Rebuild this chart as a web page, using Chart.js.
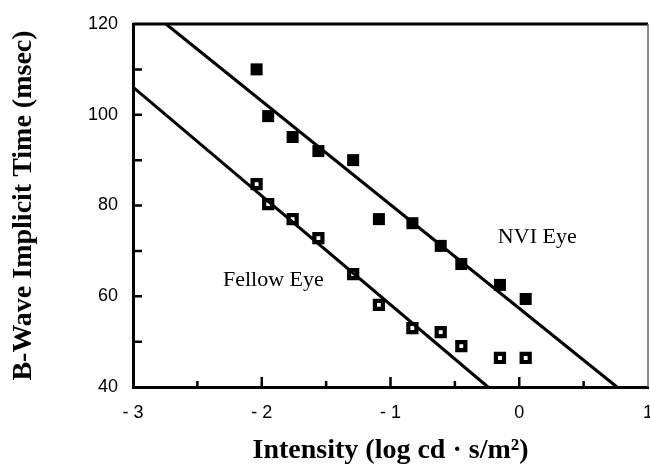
<!DOCTYPE html>
<html>
<head>
<meta charset="utf-8">
<script src="https://cdn.jsdelivr.net/npm/chart.js@4"></script>
<style>
  body { margin: 0; background: #fff; }
</style>
</head>
<body>
<canvas id="implicitChart" width="650" height="465"></canvas>
<script>
// intensity (log cd·s/m2), shared by both eyes
const intensity = [-2.04, -1.95, -1.76, -1.56, -1.29, -1.09, -0.83, -0.61, -0.45, -0.15, 0.05];
const nviEye = [110, 99.7, 95.1, 92, 90, 77, 76.1, 71.1, 67.1, 62.5, 59.4];
const fellowEye = [84.7, 80.3, 77, 72.8, 64.9, 58.1, 53, 52.1, 49, 46.4, 46.4];

// fitted regression lines, end points
const nviFitX = [-2.744, 0.759];
const nviFitY = [120, 40];
const fellowFitX = [-3, -0.243];
const fellowFitY = [106.1, 40];

const xMarks = [-2.5, -2, -1.5, -1, -0.5, 0, 0.5];
const yMarks = [50, 60, 70, 80, 90, 100, 110];

const notes = [
    { text: 'NVI Eye', x: 0.14, y: 73.1 },
    { text: 'Fellow Eye', x: -1.91, y: 63.6 }
];

function toPoints(xs, ys){
    return xs.map((x, i) => ({ x: x, y: ys[i] }));
}

const framePlugin = {
    id: 'frame',
    afterDatasetsDraw(chart){
        const ctx = chart.ctx;
        const area = chart.chartArea;
        const xs = chart.scales.x;
        const ys = chart.scales.y;
        ctx.save();
        ctx.strokeStyle = '#000';
        ctx.lineWidth = 2.5;
        ctx.beginPath();
        for(let v of yMarks){
            const py = ys.getPixelForValue(v);
            ctx.moveTo(area.left, py);
            ctx.lineTo(area.left + 9, py);
        }
        for(let v of xMarks){
            const px = xs.getPixelForValue(v);
            const len = Number.isInteger(v) ? 10 : 6;
            ctx.moveTo(px, area.bottom);
            ctx.lineTo(px, area.bottom - len);
        }
        ctx.stroke();

        // top edge thick, right edge thin
        ctx.lineWidth = 3;
        ctx.beginPath();
        ctx.moveTo(area.left, area.top);
        ctx.lineTo(area.right, area.top);
        ctx.stroke();
        ctx.strokeStyle = '#666';
        ctx.lineWidth = 1.5;
        ctx.beginPath();
        ctx.moveTo(area.right, area.top);
        ctx.lineTo(area.right, area.bottom);
        ctx.stroke();

        ctx.fillStyle = '#000';
        ctx.font = '22px "Liberation Serif", "Times New Roman", serif';
        ctx.textAlign = 'center';
        ctx.textBaseline = 'middle';
        for(let n of notes){
            ctx.fillText(n.text, xs.getPixelForValue(n.x), ys.getPixelForValue(n.y));
        }
        ctx.restore();
    }
};

const config = {
    type: 'scatter',
    data: {
        datasets: [
            {
                label: 'NVI fit',
                type: 'line',
                data: toPoints(nviFitX, nviFitY),
                borderColor: '#000',
                borderWidth: 3,
                pointRadius: 0,
                fill: false
            },
            {
                label: 'Fellow fit',
                type: 'line',
                data: toPoints(fellowFitX, fellowFitY),
                borderColor: '#000',
                borderWidth: 3,
                pointRadius: 0,
                fill: false
            },
            {
                label: 'NVI Eye',
                data: toPoints(intensity, nviEye),
                pointStyle: 'rect',
                pointRadius: 8.5,
                backgroundColor: '#000',
                borderColor: '#000',
                borderWidth: 0
            },
            {
                label: 'Fellow Eye',
                data: toPoints(intensity, fellowEye),
                pointStyle: 'rect',
                pointRadius: 5.7,
                backgroundColor: '#fff',
                borderColor: '#000',
                borderWidth: 4.2
            }
        ]
    },
    options: {
        responsive: false,
        animation: false,
        clip: false,
        layout: {
            autoPadding: false,
            padding: { top: 24, right: 2, left: 0, bottom: 0 }
        },
        plugins: {
            legend: { display: false },
            tooltip: { enabled: false }
        },
        scales: {
            x: {
                type: 'linear',
                min: -3,
                max: 1,
                grid: { display: false, drawTicks: false },
                border: { display: true, color: '#000', width: 3 },
                ticks: {
                    stepSize: 1,
                    padding: 15,
                    color: '#000',
                    font: { family: '"Liberation Sans", Arial, sans-serif', size: 18 },
                    callback: v => v < 0 ? '- ' + Math.abs(v) : String(v)
                },
                title: {
                    display: true,
                    text: 'Intensity (log cd · s/m²)',
                    color: '#000',
                    font: { family: '"Liberation Serif", "Times New Roman", serif', size: 28, weight: 'bold', lineHeight: 1 },
                    padding: { top: 0, bottom: 0 }
                },
                afterFit(scale){
                    scale.height = 78;
                    scale.paddingLeft = 0;
                    scale.paddingRight = 0;
                }
            },
            y: {
                min: 40,
                max: 120,
                grid: { display: false, drawTicks: false },
                border: { display: true, color: '#000', width: 3 },
                ticks: {
                    stepSize: 20,
                    padding: 15,
                    color: '#000',
                    font: { family: '"Liberation Sans", Arial, sans-serif', size: 18 }
                },
                title: {
                    display: true,
                    text: 'B-Wave Implicit Time (msec)',
                    color: '#000',
                    font: { family: '"Liberation Serif", "Times New Roman", serif', size: 28, weight: 'bold', lineHeight: 1 },
                    padding: { top: 10, bottom: 0 }
                },
                afterFit(scale){
                    scale.width = 133;
                    scale.paddingTop = 0;
                    scale.paddingBottom = 0;
                }
            }
        }
    },
    plugins: [framePlugin]
};

const implicitChart = new Chart(
    document.getElementById('implicitChart'),
    config
);
</script>
</body>
</html>
